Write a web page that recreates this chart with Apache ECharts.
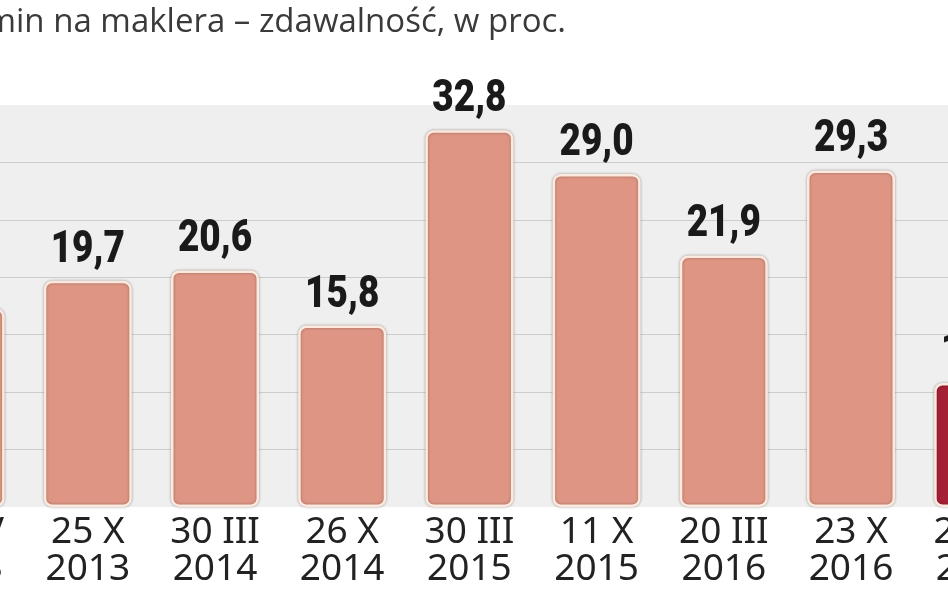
<!DOCTYPE html>
<html><head><meta charset="utf-8">
<script src="https://cdn.jsdelivr.net/npm/echarts@6/dist/echarts.min.js"></script>
<style>html,body{margin:0;padding:0;background:#fff}#c{width:948px;height:593px}</style>
</head><body><div id="c"></div>
<script>
const title = 'Egzamin na maklera – zdawalność, w proc.';
const categories = ['14 IV\n2013', '25 X\n2013', '30 III\n2014', '26 X\n2014', '30 III\n2015', '11 X\n2015', '20 III\n2016', '23 X\n2016', '26 III\n2017', ''];
const values = [17.3, 19.7, 20.6, 15.8, 32.8, 29.0, 21.9, 29.3, 10.8, null];
const highlightIndex = 8;
const yTicks = [0, 5, 10, 15, 20, 25, 30, 35];

const chart = echarts.init(document.getElementById('c'), null, {renderer: 'canvas'});
chart.setOption({
  animation: false,
  graphic: [{
    type: 'text', right: 948 - 566, top: 6,
    style: {text: title, font: '33px "Open Sans", sans-serif', fill: '#3a3a3a', textAlign: 'right'}
  }],
  grid: {left: -103, width: 1272, top: 105, bottom: 86, show: true, backgroundColor: '#efefef', borderWidth: 0,
         outerBoundsMode: 'none', containLabel: false},
  xAxis: {
    type: 'category', data: categories,
    axisLine: {show: false}, axisTick: {show: false},
    axisLabel: {interval: 0, margin: 7, color: '#222', fontFamily: '"Noto Sans", sans-serif', fontSize: 37, lineHeight: 37}
  },
  yAxis: {
    type: 'value', min: yTicks[0], max: yTicks[yTicks.length - 1], interval: 5,
    axisLabel: {show: false}, axisLine: {show: false}, axisTick: {show: false},
    splitLine: {lineStyle: {color: ['rgba(0,0,0,0)', '#cdcdcd', '#cdcdcd', '#cdcdcd', '#cdcdcd', '#cdcdcd', '#cdcdcd', 'rgba(0,0,0,0)'], width: 1}}
  },
  series: [{
    type: 'bar', barWidth: 88,
    data: values.map((v, i) => ({
      value: v,
      itemStyle: {color: i === highlightIndex ? '#a51f35' : '#de9584'}
    })),
    itemStyle: {borderColor: '#fde9dd', borderWidth: 2.5, borderRadius: 7, shadowColor: 'rgba(0,0,0,0.3)', shadowBlur: 3}
  }, {
    type: 'custom', z: 5, clip: false,
    data: values.map((v, i) => [i, v]),
    renderItem: (params, api) => {
      const v = api.value(1);
      if (v == null || isNaN(v)) return null;
      const pt = api.coord([api.value(0), v]);
      return {
        type: 'text', x: pt[0], y: pt[1] - 30, scaleX: 0.84,
        style: {
          text: v.toFixed(1).replace('.', ','),
          font: '900 44px Roboto, sans-serif', fill: '#1a1a1a',
          align: 'center', verticalAlign: 'middle'
        }
      };
    }
  }]
});
</script></body></html>
